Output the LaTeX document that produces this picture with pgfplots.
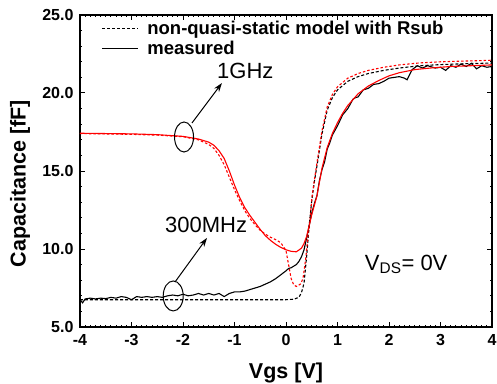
\documentclass[border=0pt]{standalone}
\usepackage{pgfplots}
\pgfplotsset{compat=1.18}
\usepackage{fontspec}
\setmainfont{Liberation Sans}
\usetikzlibrary{arrows.meta}
\begin{document}
\begin{tikzpicture}
\begin{axis}[
 scale only axis, width=412pt, height=312pt,
 xmin=-4, xmax=4, ymin=5, ymax=25,
 xtick={-4,-3,-2,-1,0,1,2,3,4}, xticklabels={-4,-3,-2,-1,0,1,2,3,4},
 ytick={5,10,15,20,25}, yticklabels={5.0,10.0,15.0,20.0,25.0},
 minor x tick num=9, minor y tick num=4,
 tick align=inside, tick pos=both, ticklabel pos=left,
 major tick length=5pt, minor tick length=2.5pt,
 every tick/.style={black, line width=1pt},
 axis line style={line width=1.6pt},
 ticklabel style={font=\bfseries\fontsize{16}{16}\selectfont},
 xticklabel style={yshift=-4pt},
 yticklabel style={xshift=-3pt},
 xlabel={Vgs [V]}, ylabel={Capacitance [fF]},
 label style={font=\bfseries\fontsize{21.5}{21.5}\selectfont},
 xlabel style={at={(axis description cs:0.5,-0.1635)}, anchor=base},
 ylabel style={at={(axis description cs:-0.1456,0.46)}, anchor=center},
 legend style={draw=none, fill=none, at={(axis description cs:0.045,0.995)}, anchor=north west,
   font=\bfseries\fontsize{18.5}{18.5}\selectfont, nodes={inner sep=2.6pt}},
 legend cell align=left,
 legend image code/.code={\draw[#1] (0pt,0pt) -- (36pt,0pt); \path (42pt,0pt);},
]
\addlegendimage{black, line width=1pt, dash pattern=on 3pt off 2pt}
\addlegendentry{non-quasi-static model with Rsub}
\addlegendimage{black, line width=1pt}
\addlegendentry{measured}

% 300MHz model (black dashed)
\addplot[black, line width=1.1pt, dash pattern=on 3pt off 2pt, forget plot] coordinates {
(-4,6.75) (-3,6.75) (-2,6.75) (-1,6.75) (0,6.75) (0.15,6.78) (0.25,6.9) (0.3,7.2) (0.35,7.8)
(0.4,9.5) (0.45,11.5) (0.5,13.1) (0.55,14.3) (0.6,15.3) (0.7,17.4) (0.8,18.9) (0.9,19.7)
(1.0,20.2) (1.2,20.75) (1.4,21.05) (1.6,21.25) (1.9,21.45) (2.2,21.6) (2.6,21.75) (3.0,21.82)
(3.5,21.88) (4,21.92)};

% 1GHz model (red dashed)
\addplot[red, line width=1.1pt, dash pattern=on 2.5pt off 2pt, forget plot] coordinates {
(-4,17.4) (-3,17.35) (-2.5,17.3) (-2,17.2) (-1.7,17.0) (-1.5,16.7) (-1.4,16.45) (-1.3,16.0)
(-1.2,15.4) (-1.1,14.6) (-1.0,13.8) (-0.9,13.1) (-0.8,12.45) (-0.7,11.95) (-0.6,11.55)
(-0.5,11.2) (-0.4,10.95) (-0.3,10.75) (-0.2,10.6) (-0.1,10.4) (0,9.9) (0.05,9.0) (0.1,8.1)
(0.15,7.7) (0.2,7.6) (0.28,7.75) (0.33,8.1) (0.38,9.3) (0.42,10.6) (0.47,12.0) (0.5,13.2)
(0.55,14.4) (0.6,15.5) (0.7,17.6) (0.8,19.1) (0.9,19.9) (1.0,20.4) (1.2,20.95) (1.4,21.25)
(1.6,21.45) (1.9,21.65) (2.2,21.8) (2.6,21.93) (3.0,22.0) (3.5,22.05) (4,22.1)};

% 300MHz measured (black solid)
\addplot[black, line width=1.1pt, forget plot] coordinates {
(-4.0,6.75) (-3.95,6.55) (-3.9,6.8) (-3.8,6.85) (-3.7,6.8) (-3.6,6.85) (-3.5,6.82) (-3.4,6.9)
(-3.3,6.85) (-3.2,6.95) (-3.1,6.9) (-3.0,6.75) (-2.9,6.95) (-2.8,6.9) (-2.7,6.95) (-2.6,6.9)
(-2.5,6.95) (-2.4,6.9) (-2.3,7.0) (-2.2,7.05) (-2.1,7.0) (-2.0,7.1) (-1.9,7.0) (-1.8,7.05)
(-1.7,7.15) (-1.6,7.05) (-1.5,7.15) (-1.4,7.05) (-1.3,7.15) (-1.2,6.95) (-1.1,7.15) (-1.0,7.25)
(-0.9,7.25) (-0.8,7.3) (-0.7,7.4) (-0.6,7.5) (-0.5,7.6) (-0.4,7.75) (-0.3,7.9) (-0.2,8.1)
(-0.1,8.35) (0.0,8.6) (0.05,8.75) (0.1,8.8) (0.2,9.0) (0.25,9.2) (0.3,9.5) (0.35,9.95)
(0.4,10.7) (0.45,11.5) (0.5,12.3) (0.55,12.9) (0.6,13.4) (0.65,14.4) (0.7,15.1) (0.75,15.6)
(0.8,16.4) (0.85,16.8) (0.9,17.3) (0.95,17.6) (1.0,17.9) (1.1,18.6) (1.2,19.0) (1.3,19.6)
(1.35,19.7) (1.4,19.75) (1.5,20.2) (1.6,20.3) (1.7,20.55) (1.8,20.6) (1.9,20.75) (2.0,20.95)
(2.1,21.0) (2.2,21.05) (2.3,20.95) (2.35,20.85) (2.45,21.5) (2.55,21.75) (2.65,21.6)
(2.75,21.75) (2.9,21.6) (3.0,21.65) (3.1,21.45) (3.2,21.75) (3.3,21.65) (3.4,21.85) (3.5,21.7)
(3.6,21.9) (3.7,21.55) (3.8,21.75) (3.9,21.65) (4.0,21.7)};

% 1GHz measured (red solid)
\addplot[red, line width=1.1pt, forget plot] coordinates {
(-4,17.42) (-3,17.38) (-2.5,17.33) (-2,17.22) (-1.7,17.05) (-1.5,16.85) (-1.4,16.65) (-1.3,16.3)
(-1.2,15.8) (-1.1,15.0) (-1.0,14.1) (-0.9,13.3) (-0.8,12.65) (-0.7,12.15) (-0.6,11.7)
(-0.5,11.25) (-0.4,10.85) (-0.3,10.55) (-0.2,10.3) (-0.1,10.1) (0,9.95) (0.1,9.85) (0.2,9.82)
(0.3,10.05) (0.35,10.35) (0.4,10.8) (0.45,11.5) (0.5,12.2) (0.55,12.8) (0.6,13.4) (0.7,15.2)
(0.8,16.5) (0.9,17.4) (1.0,18.1) (1.1,18.7) (1.2,19.2) (1.4,19.95) (1.6,20.45) (1.8,20.8)
(2.0,21.1) (2.2,21.3) (2.5,21.5) (2.8,21.6) (3.2,21.7) (3.6,21.75) (4,21.8)};

% annotations
\draw[line width=1pt] (axis cs:-1.98,17.18) ellipse [x radius=9.5pt, y radius=15pt];
\draw[line width=1pt, -{Stealth[length=9pt,width=6pt]}] (axis cs:-1.825,18.08) -- (axis cs:-1.243,20.64);
\node[anchor=base west, font=\fontsize{22}{22}\selectfont, inner sep=0pt] at (axis cs:-1.34,20.94) {1GHz};
\draw[line width=1pt] (axis cs:-2.19,6.99) ellipse [x radius=10pt, y radius=15pt];
\draw[line width=1pt, -{Stealth[length=9pt,width=6pt]}] (axis cs:-2.155,7.885) -- (axis cs:-1.534,10.71);
\node[anchor=base west, font=\fontsize{22}{22}\selectfont, inner sep=0pt] at (axis cs:-2.35,11.03) {300MHz};
\node[anchor=base west, font=\fontsize{22}{22}\selectfont, inner sep=0pt] at (axis cs:1.53,8.65) {V\textsubscript{DS}= 0V};
\end{axis}
\pgfresetboundingbox
\path[use as bounding box] ([shift={(-80pt,-56pt)}]current axis.south west) rectangle ([shift={(5pt,15pt)}]current axis.north east);
\end{tikzpicture}
\end{document}
